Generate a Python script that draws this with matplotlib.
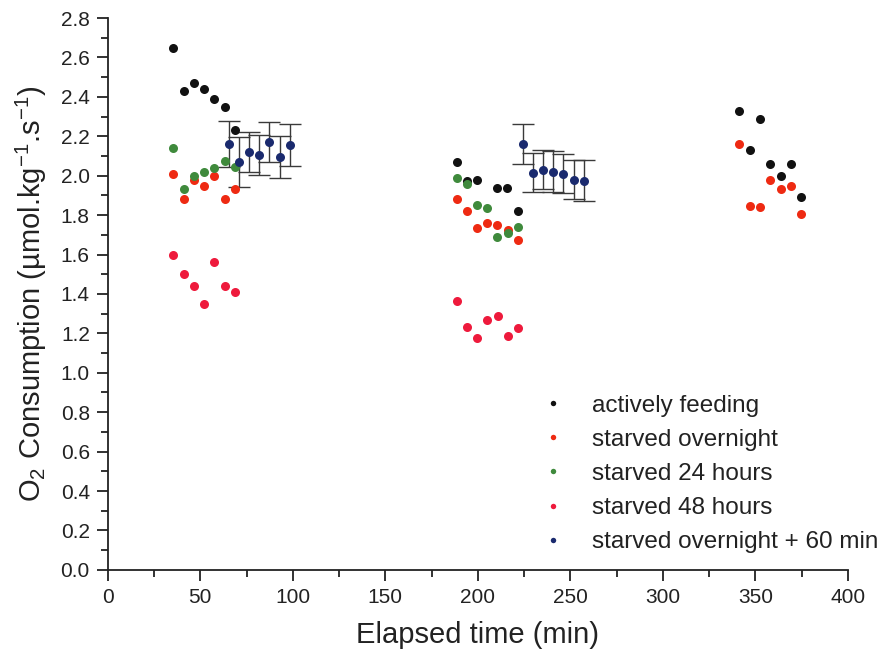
import numpy as np
import matplotlib
matplotlib.use("Agg")
import matplotlib.pyplot as plt

plt.rcParams['font.family'] = ['Liberation Sans', 'DejaVu Sans']
plt.rcParams['mathtext.fontset'] = 'custom'
plt.rcParams['mathtext.rm'] = 'Liberation Sans'
plt.rcParams['mathtext.it'] = 'Liberation Sans:italic'

# actively feeding
t_fed = [35.3, 41.1, 46.7, 52.1, 57.5, 63.1, 68.6,
         188.8, 194.2, 199.6, 210.6, 216.0, 221.6,
         341.4, 346.9, 352.4, 358.2, 363.8, 369.4, 374.8]
o2_fed = [2.65, 2.43, 2.47, 2.44, 2.39, 2.35, 2.23,
          2.07, 1.975, 1.98, 1.94, 1.94, 1.82,
          2.33, 2.13, 2.29, 2.06, 2.00, 2.06, 1.89]

# starved overnight
t_over = [35.3, 41.1, 46.7, 52.1, 57.5, 63.1, 68.6,
          188.8, 194.2, 199.8, 205.2, 210.6, 216.2, 221.6,
          341.4, 347.0, 352.6, 358.2, 363.8, 369.4, 374.8]
o2_over = [2.01, 1.88, 1.98, 1.95, 2.00, 1.88, 1.93,
           1.88, 1.82, 1.735, 1.76, 1.75, 1.725, 1.675,
           2.16, 1.845, 1.84, 1.98, 1.93, 1.95, 1.805]

# starved 24 hours
t_24 = [35.3, 41.1, 46.7, 52.1, 57.5, 63.1, 68.6,
        188.8, 194.2, 199.6, 205.2, 210.6, 216.2, 221.6]
o2_24 = [2.14, 1.93, 2.00, 2.02, 2.04, 2.075, 2.045,
         1.99, 1.96, 1.85, 1.835, 1.69, 1.71, 1.74]

# starved 48 hours
t_48 = [35.3, 41.1, 46.7, 52.1, 57.5, 63.1, 68.6,
        188.8, 194.2, 199.8, 205.2, 210.8, 216.2, 221.8]
o2_48 = [1.60, 1.50, 1.44, 1.35, 1.56, 1.44, 1.41,
         1.365, 1.23, 1.175, 1.27, 1.29, 1.185, 1.225]

# starved overnight + 60 min (mean +/- error)
t_60 = [65.6, 71.0, 76.5, 81.8, 87.2, 93.0, 98.4,
        224.2, 229.6, 235.1, 240.7, 246.3, 251.9, 257.5]
o2_60 = [2.16, 2.07, 2.12, 2.105, 2.17, 2.095, 2.155,
         2.16, 2.015, 2.03, 2.02, 2.01, 1.98, 1.975]
err_60 = [0.115, 0.125, 0.10, 0.10, 0.10, 0.105, 0.105,
          0.10, 0.10, 0.10, 0.105, 0.10, 0.10, 0.105]

fig = plt.figure(figsize=(8.84, 6.55), dpi=100)
ax = fig.add_axes([0.122, 0.13, 0.837, 0.8425])

ms = 6.5
ax.errorbar(t_60, o2_60, yerr=err_60, fmt='none', ecolor='#3a3a3a',
            elinewidth=1, capsize=8, capthick=1, zorder=2)
ax.plot(t_fed, o2_fed, 'o', color='#111111', ms=ms, mec='none', label='actively feeding', zorder=3)
ax.plot(t_over, o2_over, 'o', color='#ee2a12', ms=ms, mec='none', label='starved overnight', zorder=3)
ax.plot(t_24, o2_24, 'o', color='#3f8a3c', ms=ms, mec='none', label='starved 24 hours', zorder=3)
ax.plot(t_48, o2_48, 'o', color='#ee1a3c', ms=ms, mec='none', label='starved 48 hours', zorder=3)
ax.plot(t_60, o2_60, 'o', color='#1a2a6e', ms=ms, mec='none', label='starved overnight + 60 min', zorder=4)

ax.set_xlim(0, 400)
ax.set_ylim(0, 2.8)
ax.set_xticks(np.arange(0, 401, 50))
ax.set_xticks(np.arange(25, 400, 50), minor=True)
ax.set_yticks(np.arange(0, 2.81, 0.2))
ax.set_yticks(np.arange(0.1, 2.8, 0.2), minor=True)
ax.yaxis.set_major_formatter(matplotlib.ticker.FormatStrFormatter('%.1f'))
ax.spines['top'].set_visible(False)
ax.spines['right'].set_visible(False)
for s in ['left', 'bottom']:
    ax.spines[s].set_linewidth(1.3)
    ax.spines[s].set_color('#222222')
ax.tick_params(which='major', direction='out', length=8, width=1.3, labelsize=15,
               colors='#222222', pad=5)
ax.tick_params(which='minor', direction='out', length=5, width=1.3, colors='#222222')

ax.set_xlabel('Elapsed time (min)', fontsize=21, color='#222222', labelpad=10)
ax.set_ylabel('O$_2$ Consumption (µmol.kg$^{-1}$.s$^{-1}$)', fontsize=21,
              color='#222222', labelpad=8)

leg = ax.legend(loc='lower right', bbox_to_anchor=(1.018, 0.122), bbox_transform=fig.transFigure,
                frameon=False, fontsize=17.5, markerscale=0.6, handletextpad=1.0,
                labelspacing=0.5, handlelength=1.2)
for txt in leg.get_texts():
    txt.set_color('#222222')

fig.savefig('out.png', dpi=100)
